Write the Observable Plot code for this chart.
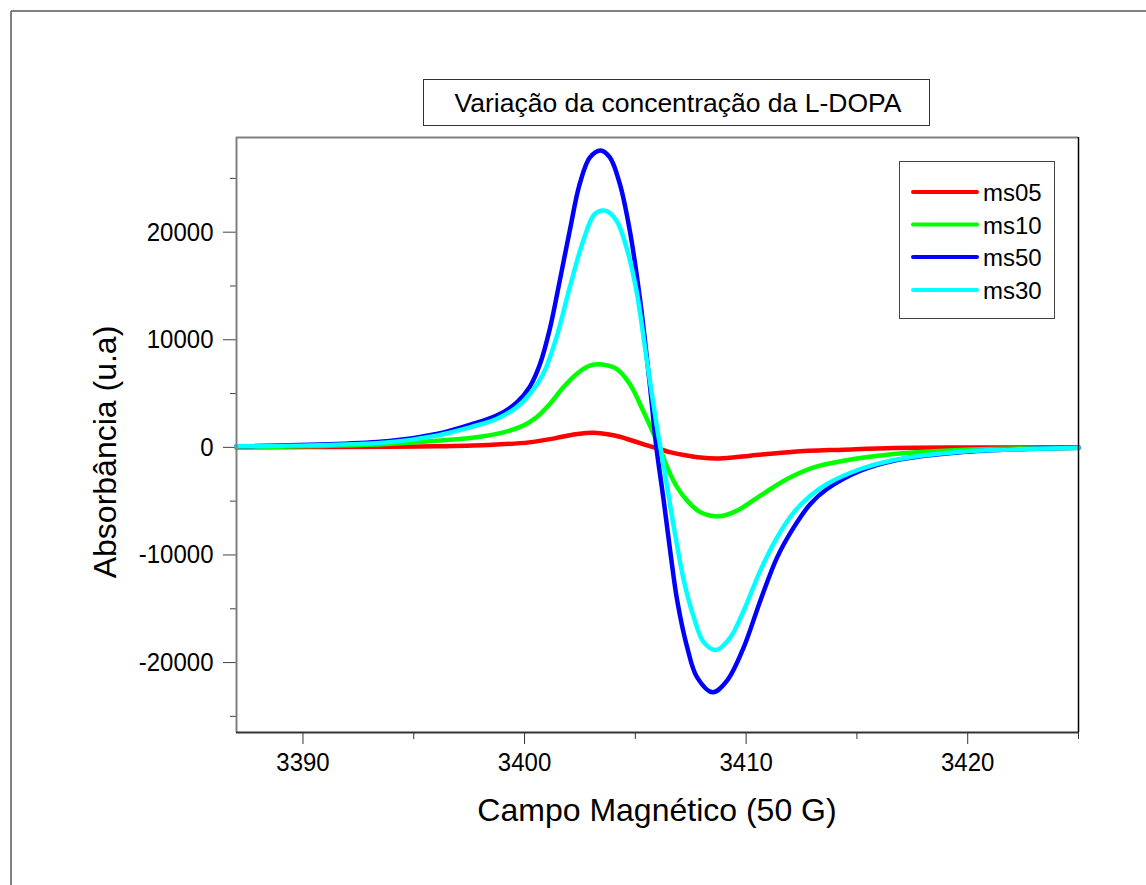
<!DOCTYPE html>
<html>
<head>
<meta charset="utf-8">
<script src="https://cdn.jsdelivr.net/npm/d3@7"></script>
<script src="https://cdn.jsdelivr.net/npm/@observablehq/plot@0.6"></script>
<style>
  html, body { margin: 0; padding: 0; background: #fff; overflow: hidden; }
  #chart { position: relative; width: 1146px; height: 885px; }
</style>
</head>
<body>
<div id="chart"></div>
<script>
// ---- Data ----
const seriesNames = ["ms05", "ms10", "ms50", "ms30"];
const seriesColors = ["#ff0000", "#00ff00", "#0000ff", "#00ffff"];

const ms05_x = [3387, 3393.8, 3396.0, 3398.3, 3400.2, 3401.4, 3402.4, 3403.3, 3404.3, 3404.63, 3405.35, 3405.83, 3406.6, 3407.19, 3407.94, 3408.78, 3410.19, 3412.15, 3414.4, 3416.7, 3420, 3425];
const ms05_y = [0, 60, 100, 220, 465, 860, 1250, 1340, 990, 780, 310, 0, -460, -710, -950, -1030, -770, -400, -210, -50, -10, 0];

const ms10_x = [3387, 3393.8, 3396.03, 3397.53, 3399.04, 3399.94, 3400.54, 3401.14, 3401.75, 3402.35, 3402.95, 3403.5, 3404.15, 3404.75, 3405.35, 3405.95, 3406.1, 3406.44, 3406.89, 3407.34, 3407.94, 3408.78, 3409.59, 3410.64, 3411.85, 3413.05, 3414.4, 3416.66, 3419.67, 3422.7, 3425];
const ms10_y = [0, 310, 620, 870, 1400, 2020, 2790, 4030, 5580, 6820, 7590, 7700, 7290, 5890, 3410, 700, 0, -1860, -3720, -4950, -6040, -6410, -5880, -4490, -2940, -1860, -1240, -620, -250, -100, -50];

const ms50_x = [3387, 3393.8, 3396.03, 3397.53, 3398.74, 3399.64, 3400.24, 3400.69, 3401.14, 3401.59, 3402.04, 3402.49, 3402.95, 3403.43, 3403.85, 3404.3, 3404.75, 3405.2, 3405.65, 3405.95, 3406.28, 3406.59, 3406.89, 3407.34, 3407.79, 3408.49, 3409.14, 3409.89, 3410.64, 3411.4, 3412.15, 3412.9, 3413.65, 3415.16, 3416.66, 3419.67, 3422.67, 3425];
const ms50_y = [100, 560, 1245, 2100, 2950, 4150, 5650, 7700, 11000, 15500, 20140, 24480, 26950, 27600, 26950, 24480, 20140, 13940, 5890, 0, -4950, -9900, -14250, -18590, -21380, -22770, -21680, -18590, -14250, -10220, -7440, -5260, -3870, -2170, -1240, -460, -150, -30];

const ms30_x = [3387, 3393.8, 3396.03, 3397.53, 3398.74, 3399.64, 3400.24, 3400.84, 3401.44, 3402.04, 3402.65, 3403.17, 3403.65, 3404.15, 3404.6, 3405.05, 3405.5, 3405.95, 3406.13, 3406.44, 3406.74, 3407.19, 3407.64, 3408.09, 3408.65, 3409.29, 3409.89, 3410.64, 3411.4, 3412.15, 3412.9, 3413.65, 3415.16, 3416.66, 3419.67, 3422.67, 3425];
const ms30_y = [100, 465, 1090, 1860, 2640, 3720, 4960, 6820, 10220, 14870, 19210, 21690, 22000, 21070, 18590, 14560, 8360, 2170, 0, -3720, -7440, -12390, -15800, -18120, -18830, -17660, -15180, -11460, -8360, -6040, -4490, -3400, -2010, -1170, -400, -150, -30];

const xMajorTicks = [3390, 3400, 3410, 3420];
const xMinorTicks = [3395, 3405, 3415, 3425];
const yMajorTicks = [-20000, -10000, 0, 10000, 20000];
const yMinorTicks = [-25000, -15000, -5000, 5000, 15000, 25000];
const xDomain = [3387, 3425];
const yDomain = [-26500, 28800];

const titleText = "Variação da concentração da L-DOPA";
const xLabel = "Campo Magnético (50 G)";
const yLabel = "Absorbância (u.a)";

// ---- Build table ----
const seriesX = [ms05_x, ms10_x, ms50_x, ms30_x];
const seriesY = [ms05_y, ms10_y, ms50_y, ms30_y];
const data = seriesNames.flatMap((name, i) =>
  seriesX[i].map((x, j) => ({series: name, x, y: seriesY[i][j]}))
);

const FONT = "'Liberation Sans', Arial, Helvetica, sans-serif";
const W = 1146, H = 885;
const mL = 236, mR = 68, mT = 137, mB = 153;

const chart = Plot.plot({
  width: W,
  height: H,
  marginLeft: mL,
  marginRight: mR,
  marginTop: mT,
  marginBottom: mB,
  style: {fontFamily: FONT, background: "transparent", overflow: "visible"},
  x: {domain: xDomain},
  y: {domain: yDomain},
  color: {domain: seriesNames, range: seriesColors},
  marks: [
    Plot.axisX(xMajorTicks, {tickSize: 12, tickPadding: 8, fontSize: 24, stroke: "#333", color: "#000", tickFormat: d => String(d), label: null}),
    Plot.axisX(xMinorTicks, {tickSize: 7, stroke: "#333", tickFormat: () => "", label: null}),
    Plot.axisY(yMajorTicks, {tickSize: 13, tickPadding: 10, fontSize: 24, stroke: "#444", color: "#000", tickFormat: d => String(d), label: null}),
    Plot.axisY(yMinorTicks, {tickSize: 6, stroke: "#444", tickFormat: () => "", label: null}),
    Plot.lineY(data, {x: "x", y: "y", z: "series", stroke: "series", strokeWidth: 4.5, curve: "catmull-rom"}),
    Plot.ruleY([yDomain[1]], {stroke: "#808080", strokeWidth: 2}),
    Plot.ruleX([xDomain[0]], {stroke: "#808080", strokeWidth: 2}),
    Plot.ruleX([xDomain[1]], {stroke: "#000", strokeWidth: 1.5}),
    Plot.ruleY([yDomain[0]], {stroke: "#333", strokeWidth: 2})
  ]
});

document.getElementById("chart").appendChild(chart);

const svg = d3.select(chart);

// Slightly taller tick labels, as in the reference
svg.selectAll("g[aria-label='x-axis tick label'] text, g[aria-label='y-axis tick label'] text")
  .each(function() {
    const t = this.getAttribute("transform") || "";
    this.setAttribute("transform", t + " scale(1,1.1)");
  });

// Outer page frame (top & left visible)
svg.append("line").attr("x1", 11).attr("y1", 11).attr("x2", 11).attr("y2", H)
  .attr("stroke", "#808080").attr("stroke-width", 2);
svg.append("line").attr("x1", 11).attr("y1", 11).attr("x2", W).attr("y2", 11)
  .attr("stroke", "#808080").attr("stroke-width", 2);

// Axis titles
svg.append("text")
  .attr("x", (mL + (W - mR)) / 2).attr("y", 821)
  .attr("text-anchor", "middle")
  .attr("font-family", FONT).attr("font-size", 32).attr("fill", "#000")
  .text(xLabel);

svg.append("text")
  .attr("transform", `translate(116, 452) rotate(-90)`)
  .attr("text-anchor", "middle")
  .attr("font-family", FONT).attr("font-size", 32).attr("fill", "#000")
  .text(yLabel);

// Title box
const tb = svg.append("g");
tb.append("rect").attr("x", 423.5).attr("y", 79.5).attr("width", 506).attr("height", 46)
  .attr("fill", "#fff").attr("stroke", "#333").attr("stroke-width", 1);
tb.append("text").attr("x", 678).attr("y", 112)
  .attr("text-anchor", "middle")
  .attr("font-family", FONT).attr("font-size", 26.5).attr("fill", "#000")
  .text(titleText);

// Legend
const lg = svg.append("g");
lg.append("rect").attr("x", 899.5).attr("y", 161.5).attr("width", 155).attr("height", 157)
  .attr("fill", "#fff").attr("stroke", "#444").attr("stroke-width", 1);
const legendY = [192, 224.5, 257, 290];
seriesNames.forEach((name, i) => {
  lg.append("line").attr("x1", 913).attr("x2", 977).attr("y1", legendY[i]).attr("y2", legendY[i])
    .attr("stroke", seriesColors[i]).attr("stroke-width", 4).attr("stroke-linecap", "round");
  lg.append("text").attr("x", 983).attr("y", legendY[i] + 9)
    .attr("text-anchor", "start")
    .attr("font-family", FONT).attr("font-size", 24).attr("fill", "#000")
    .text(name);
});
</script>
</body>
</html>
